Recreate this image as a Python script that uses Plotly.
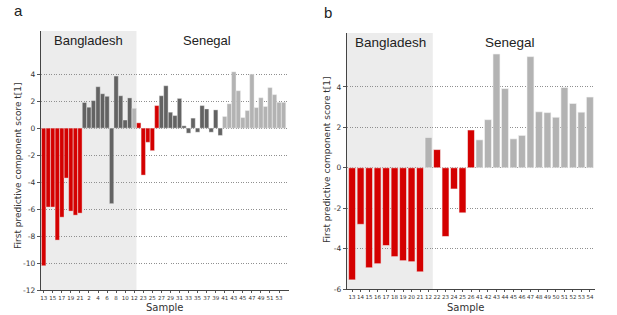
import plotly.graph_objects as go

# ---------------- Panel a data ----------------
a_samples = ["13", "14", "15", "16", "17", "18", "19", "20", "21",
             "1", "2", "3", "4", "5", "6", "7", "8", "9", "10", "11", "12",
             "22", "23", "24", "25", "26", "27", "28", "29", "30", "31", "32", "33",
             "34", "35", "36", "37", "38", "39", "40", "41", "42", "43", "44", "45",
             "46", "47", "48", "49", "50", "51", "52", "53", "54"]
a_scores = [-10.2, -5.85, -5.85, -8.3, -6.6, -3.7, -6.15, -6.45, -6.3,
            1.9, 1.55, 2.04, 3.07, 2.55, 2.36, -5.6, 3.86, 2.4, 0.6, 2.24, 1.47,
            0.39, -3.48, -1.05, -1.67, 1.67, 2.4, 3.14, 1.18, 0.93, 2.2, 0.17, -0.37,
            0.74, -0.3, 1.67, 1.42, -0.3, 1.35, -0.54, 0.86, 1.8, 4.17, 2.77, 0.78,
            1.3, 4.0, 1.52, 2.25, 1.6, 3.0, 2.48, 1.91, 1.91]
# group: r = red, d = dark grey, l = light grey
a_groups = (["r"] * 9 + ["d"] * 11 + ["l"] + ["r"] * 5 + ["d"] * 14 + ["l"] * 14)
a_ticks = ["13", "15", "17", "19", "21", "2", "4", "6", "8", "10", "12",
           "23", "25", "27", "29", "31", "33", "35", "37", "39", "41", "43",
           "45", "47", "49", "51", "53"]

# ---------------- Panel b data ----------------
b_samples = ["13", "14", "15", "16", "17", "18", "19", "20", "21", "12",
             "22", "23", "24", "25", "26", "41", "42", "43", "44", "45", "46",
             "47", "48", "49", "50", "51", "52", "53", "54"]
b_scores = [-5.55, -2.8, -4.95, -4.75, -3.85, -4.4, -4.6, -4.65, -5.15, 1.5,
            0.9, -3.4, -1.05, -2.23, 1.87, 1.38, 2.38, 5.63, 3.92, 1.43, 1.6,
            5.5, 2.77, 2.73, 2.5, 3.97, 3.18, 2.75, 3.5]
b_groups = ["r"] * 9 + ["l"] + ["r"] * 5 + ["l"] * 14

colors = {"r": "#d40000", "d": "#636363", "l": "#b3b3b3"}

W, H = 617, 315
def px_x(a, b):
    return [a / W, b / W]
def px_y(top, bottom):
    return [1 - bottom / H, 1 - top / H]

fig = go.Figure()
fig.add_trace(go.Bar(x=a_samples, y=a_scores, xaxis="x", yaxis="y",
                     marker=dict(color=[colors[g] for g in a_groups],
                                 line=dict(width=0.4, color="#f0f0f0")),
                     width=0.96, showlegend=False))
fig.add_trace(go.Bar(x=b_samples, y=b_scores, xaxis="x2", yaxis="y2",
                     marker=dict(color=[colors[g] for g in b_groups],
                                 line=dict(width=0.6, color="#f4f4f4")),
                     width=0.82, showlegend=False))

tickfont = dict(family="DejaVu Sans", size=5.5, color="#333")
ytickfont = dict(family="DejaVu Sans", size=7.5, color="#333")
common_y = dict(showgrid=True, gridcolor="#8f8f8f", griddash="1px,1.5px", gridwidth=1,
                zeroline=False, showline=True, linecolor="#444", linewidth=1.3,
                ticks="outside", ticklen=3, tickcolor="#555", tickfont=ytickfont,
                automargin=False)
common_x = dict(showgrid=False, zeroline=False, showline=True, linecolor="#444",
                linewidth=1.3, ticks="outside", ticklen=2, tickcolor="#555",
                tickfont=tickfont, tickangle=0, type="category", automargin=False)

def label(text, x, y, size, family="Liberation Sans", angle=0, color="#222"):
    return dict(text=text, x=x / W, y=1 - y / H, xref="paper", yref="paper",
                showarrow=False, xanchor="center", yanchor="middle", textangle=angle,
                font=dict(family=family, size=size, color=color))

ytitle = "First predictive component score t[1]"

fig.update_layout(
    width=W, height=H, margin=dict(l=0, r=0, t=0, b=0, autoexpand=False),
    paper_bgcolor="white", plot_bgcolor="rgba(0,0,0,0)",
    xaxis=dict(domain=px_x(41, 289), anchor="y", range=[-0.6, 54.2],
               tickmode="array", tickvals=a_ticks, ticktext=a_ticks, **common_x),
    yaxis=dict(domain=px_y(31, 290), anchor="x", range=[-12, 7.2],
               tickvals=list(range(-12, 5, 2)),
               ticktext=[str(v) for v in range(-12, 5, 2)], **common_y),
    xaxis2=dict(domain=px_x(347, 595), anchor="y2", range=[-0.6, 28.6],
                tickmode="array", tickvals=b_samples, ticktext=b_samples, **common_x),
    yaxis2=dict(domain=px_y(33, 289), anchor="x2", range=[-6, 6.67],
                tickvals=list(range(-6, 5, 2)),
                ticktext=[str(v) for v in range(-6, 5, 2)], **common_y),
    shapes=[
        dict(type="rect", xref="x", yref="y domain", x0=-0.6, x1=20.5, y0=0, y1=1,
             fillcolor="#ececec", line=dict(width=0), layer="below"),
        dict(type="rect", xref="x2", yref="y2 domain", x0=-0.6, x1=9.5, y0=0, y1=1,
             fillcolor="#ececec", line=dict(width=0), layer="below"),
    ],
    annotations=[
        label("a", 18, 11, 15),
        label("b", 328, 13, 15),
        label("Bangladesh", 88, 41, 13),
        label("Senegal", 207, 41, 13),
        label("Bangladesh", 390, 43, 13.5),
        label("Senegal", 510, 43, 13.5),
        label(ytitle, 18, 166, 9, "DejaVu Sans", -90, "#333"),
        label(ytitle, 327, 160, 9, "DejaVu Sans", -90, "#333"),
        label("Sample", 165, 307, 10, "DejaVu Sans", 0, "#333"),
        label("Sample", 466, 307, 10, "DejaVu Sans", 0, "#333"),
    ],
)

fig.write_html("out.html", config={"displayModeBar": False},
               post_script="document.body.style.margin='0';")
